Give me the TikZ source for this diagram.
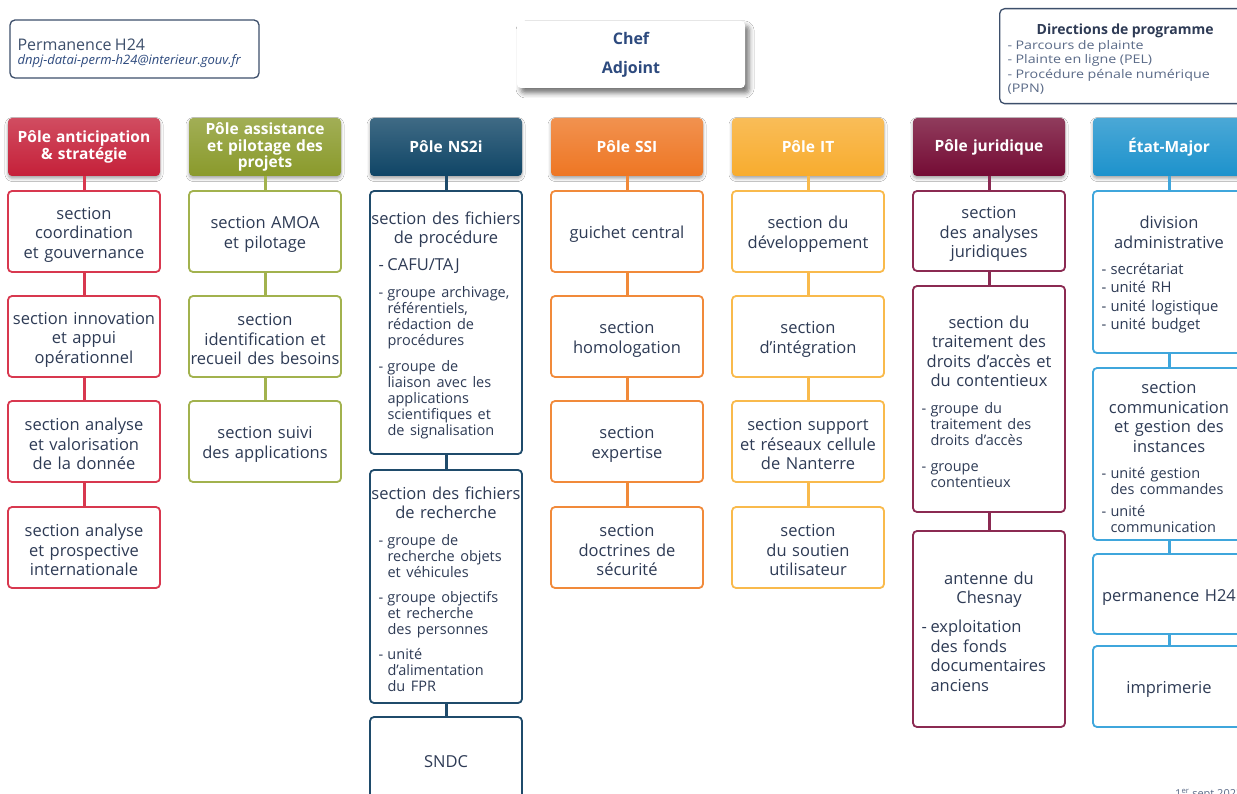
\documentclass[tikz,border=0pt]{standalone}
\usepackage{fontspec}
\setmainfont{Open Sans}
\newfontfamily\widefont{Open Sans}[FakeStretch=1.2]
\usetikzlibrary{shadows,shadows.blur}

% palette
\definecolor{txt}{HTML}{2E3B55}
\definecolor{ink}{HTML}{2D4A7E}
\definecolor{slate}{HTML}{3D4F6B}
\definecolor{greytxt}{HTML}{5B6B88}
\definecolor{hA}{HTML}{C52039}\definecolor{bA}{HTML}{D8384F}
\definecolor{hB}{HTML}{8A9A2B}\definecolor{bB}{HTML}{A2B24E}
\definecolor{hC}{HTML}{0F4566}\definecolor{bC}{HTML}{1F4B6B}
\definecolor{hD}{HTML}{EE7623}\definecolor{bD}{HTML}{F18A3A}
\definecolor{hE}{HTML}{F8AC2E}\definecolor{bE}{HTML}{F9BA4C}
\definecolor{hF}{HTML}{740B34}\definecolor{bF}{HTML}{8B2A52}
\definecolor{hG}{HTML}{1D92CC}\definecolor{bG}{HTML}{3FA6DC}

% dashed list item: gap before, font size, line skip, lines
\newcommand\li[4]{\par\vspace{#1}{\raggedright\let\\\newline
  \fontsize{#2}{#3}\selectfont\noindent\hangindent=19.5pt\hangafter=1
  \hspace*{10.5pt}\makebox[9pt][l]{-}#4\par}}

\tikzset{
  hdr/.style={rounded corners=4pt, minimum width=152pt, minimum height=58pt,
    text width=152pt, inner xsep=0pt, align=center, text=white,
    font=\fontsize{15.5}{16.5}\selectfont\bfseries,
    top color=#1!80!white, bottom color=#1,
    blur shadow={shadow xshift=0pt, shadow yshift=-2.5pt, shadow blur radius=3pt, shadow opacity=35}},
  sec/.style={draw=#1, line width=1.8pt, rounded corners=4pt, fill=white,
    minimum width=152pt, text width=156pt, inner xsep=-2pt, inner ysep=0pt,
    align=center, text=txt, font=\fontsize{16.5}{19.5}\selectfont,
    execute at begin node={\rule{0pt}{18pt}}},
  link/.style={draw=#1, line width=3pt},
  infobox/.style={draw=slate, line width=1.3pt, rounded corners=5pt, fill=white, align=left},
}

\begin{document}
\begin{tikzpicture}[x=1pt, y=-1pt]
\useasboundingbox[fill=white] (0,0) rectangle (1237,794);

% ---- top boxes
\node[infobox, minimum width=249pt, minimum height=58pt, text width=234pt, inner xsep=7.5pt]
  (perm) at (134.5,49)
  {{\color{slate}\fontsize{16}{16}\selectfont\rule{0pt}{20pt}Permanence H24\par}
   {\color{ink}\fontsize{13}{13.5}\selectfont\itshape dnpj-datai-perm-h24@interieur.gouv.fr\par}};

\node[rounded corners=4pt, fill=white, minimum width=228pt, minimum height=67pt,
  align=center, text=ink, font=\fontsize{16}{17}\selectfont\bfseries,
  blur shadow={shadow xshift=4pt, shadow yshift=-5pt, shadow blur radius=5pt, shadow opacity=55}]
  (chef) at (631,54.5) {Chef\\[12pt]Adjoint};

\node[infobox, minimum width=251pt, minimum height=95pt, text width=235pt, inner xsep=8pt,
  anchor=north west] (dirprog) at (999,8)
  {{\centering\color{txt}\fontsize{14}{15}\selectfont\bfseries\rule{0pt}{17pt}Directions de programme\par}
   {\color{greytxt}\widefont\fontsize{11.9}{14.5}\selectfont
    - Parcours de plainte\\
    - Plainte en ligne (PEL)\\
    - Procédure pénale numérique\\
    (PPN)\par}};

% ---- pole headers
\node[hdr=hA] (hA) at (84,147)   {Pôle anticipation\\\& stratégie};
\node[hdr=hB] (hB) at (265,147)  {Pôle assistance\\et pilotage des\\projets};
\node[hdr=hC] (hC) at (446,147)  {Pôle NS2i};
\node[hdr=hD] (hD) at (627,147)  {Pôle SSI};
\node[hdr=hE] (hE) at (808,147)  {Pôle IT};
\node[hdr=hF] (hF) at (989,147)  {Pôle juridique};
\node[hdr=hG] (hG) at (1169,147) {État-Major};

% ---- anticipation & stratégie
\node[sec=bA, minimum height=81pt] (a1) at (84,231.5) {section\\coordination\\et gouvernance};
\node[sec=bA, minimum height=81pt] (a2) at (84,336.5) {section innovation\\et appui\\opérationnel};
\node[sec=bA, minimum height=81pt] (a3) at (84,441.5) {section analyse\\et valorisation\\de la donnée};
\node[sec=bA, minimum height=81pt] (a4) at (84,547.5) {section analyse\\et prospective\\internationale};

% ---- assistance et pilotage
\node[sec=bB, minimum height=81pt] (b1) at (265,231.5) {section AMOA\\et pilotage};
\node[sec=bB, minimum height=81pt] (b2) at (265,336.5) {section\\identification et\\recueil des besoins};
\node[sec=bB, minimum height=81pt] (b3) at (265,441.5) {section suivi\\des applications};

% ---- NS2i
\node[sec=bC, minimum height=263pt] (c1) at (446,322.5)
  {section des fichiers\\de procédure
   \li{7.5pt}{16.5}{19.5}{CAFU/TAJ}
   \li{11pt}{14.5}{16}{groupe archivage,\\référentiels,\\rédaction de\\procédures}
   \li{10pt}{14.5}{16}{groupe de\\liaison avec les\\applications\\scientifiques et\\de signalisation}};
\node[sec=bC, minimum height=233pt] (c2) at (446,586.5)
  {section des fichiers\\de recherche
   \li{11pt}{14.5}{16}{groupe de\\recherche objets\\et véhicules}
   \li{9pt}{14.5}{16}{groupe objectifs\\et recherche\\des personnes}
   \li{9pt}{14.5}{16}{unité\\d’alimentation\\du FPR}};
\node[sec=bC, minimum height=84pt] (c3) at (446,759) {SNDC};

% ---- SSI
\node[sec=bD, minimum height=81pt] (d1) at (627,231.5) {guichet central};
\node[sec=bD, minimum height=81pt] (d2) at (627,336.5) {section\\homologation};
\node[sec=bD, minimum height=81pt] (d3) at (627,441.5) {section\\expertise};
\node[sec=bD, minimum height=81pt] (d4) at (627,547.5) {section\\doctrines de\\sécurité};

% ---- IT
\node[sec=bE, minimum height=81pt] (e1) at (808,231.5) {section du\\développement};
\node[sec=bE, minimum height=81pt] (e2) at (808,336.5) {section\\d’intégration};
\node[sec=bE, minimum height=81pt] (e3) at (808,441.5) {section support\\et réseaux cellule\\de Nanterre};
\node[sec=bE, minimum height=81pt] (e4) at (808,547.5) {section\\du soutien\\utilisateur};

% ---- juridique
\node[sec=bF, minimum height=80pt] (f1) at (989,231) {section\\des analyses\\juridiques};
\node[sec=bF, minimum height=226pt] (f2) at (989,399)
  {section du\\traitement des\\droits d’accès et\\du contentieux
   \li{11pt}{14.5}{16}{groupe du\\traitement des\\droits d’accès}
   \li{10pt}{14.5}{16}{groupe\\contentieux}};
\node[sec=bF, minimum height=196pt] (f3) at (989,629)
  {antenne du\\Chesnay
   \li{9.5pt}{16.5}{19.5}{exploitation\\des fonds\\documentaires\\anciens}};

% ---- État-Major
\node[sec=bG, minimum height=162pt] (g1) at (1169,272)
  {division\\administrative
   \li{7.5pt}{14.8}{18.5}{secrétariat}
   \li{0pt}{14.8}{18.5}{unité RH}
   \li{0pt}{14.8}{18.5}{unité logistique}
   \li{0pt}{14.8}{18.5}{unité budget}};
\node[sec=bG, minimum height=172pt] (g2) at (1169,454)
  {section\\communication\\et gestion des\\instances
   \li{10pt}{14.5}{16}{unité gestion\\des commandes}
   \li{6pt}{14.5}{16}{unité\\communication}};
\node[sec=bG, minimum height=80pt] (g3) at (1169,594) {permanence H24};
\node[sec=bG, minimum height=81pt] (g4) at (1169,686.5) {imprimerie};

% ---- vertical links
\path[link=bA] (hA.south) -- (a1.north) (a1.south) -- (a2.north) (a2.south) -- (a3.north) (a3.south) -- (a4.north);
\path[link=bB] (hB.south) -- (b1.north) (b1.south) -- (b2.north) (b2.south) -- (b3.north);
\path[link=bC] (hC.south) -- (c1.north) (c1.south) -- (c2.north) (c2.south) -- (c3.north);
\path[link=bD] (hD.south) -- (d1.north) (d1.south) -- (d2.north) (d2.south) -- (d3.north) (d3.south) -- (d4.north);
\path[link=bE] (hE.south) -- (e1.north) (e1.south) -- (e2.north) (e2.south) -- (e3.north) (e3.south) -- (e4.north);
\path[link=bF] (hF.south) -- (f1.north) (f1.south) -- (f2.north) (f2.south) -- (f3.north);
\path[link=bG] (hG.south) -- (g1.north) (g1.south) -- (g2.north) (g2.south) -- (g3.north) (g3.south) -- (g4.north);

% ---- date line at the foot
\node[anchor=base west, inner sep=0pt, text=greytxt, font=\fontsize{11}{12}\selectfont]
  (date) at (1175,797) {1\textsuperscript{er} sept 2023};
\end{tikzpicture}
\end{document}
